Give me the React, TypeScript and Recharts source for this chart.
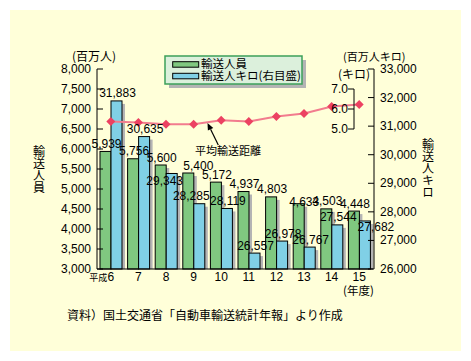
import React from 'react';
import { ComposedChart, Bar, Line, XAxis, YAxis, LabelList } from 'recharts';

const years = ['6', '7', '8', '9', '10', '11', '12', '13', '14', '15'];
const passengers = [5939, 5756, 5600, 5400, 5172, 4937, 4803, 4633, 4503, 4448];
const passengerKm = [31883, 30635, 29343, 28285, 28119, 26557, 26978, 26767, 27544, 27682];
const avgDistance = [5.37, 5.32, 5.24, 5.24, 5.44, 5.38, 5.62, 5.78, 6.12, 6.22];
const leftTicks = [3000, 3500, 4000, 4500, 5000, 5500, 6000, 6500, 7000, 7500, 8000];
const rightTicks = [26000, 27000, 28000, 29000, 30000, 31000, 32000, 33000];
const distTicks = [5, 6, 7];

const seriesNames = { passengers: '輸送人員', km: '輸送人キロ(右目盛)', dist: '平均輸送距離' };

const data = years.map((y, i) => ({
  year: y,
  passengers: passengers[i],
  km: passengerKm[i],
  dist: avgDistance[i],
}));

const GREEN = '#80C880';
const BLUE = '#80D0E6';
const SHADOW = '#B4B4B4';
const LINE = '#F27C8E';
const DOT = '#EC4262';
const BG = '#FFFFD9';
const NUM_FONT = '"Liberation Sans", Arial, "Noto Sans CJK JP", sans-serif';
const JP_FONT = '"Noto Sans CJK JP", "Liberation Sans", sans-serif';

const greenNudge: Record<number, [number, number]> = { 3: [9, 0], 7: [4.5, 5.5] };
const blueNudge: Record<number, [number, number]> = { 2: [-8, 15.5], 3: [-9, 0], 9: [10, 13.5] };

const fmt = (v: number) => v.toLocaleString('en-US');

const ShadowBar = (props: any) => {
  const { x, y, width, height, fill } = props;
  if (width == null || height == null) return null;
  const off = 3;
  return (
    <g>
      <rect x={x + off} y={y + off} width={width} height={Math.max(0, height - off)} fill={SHADOW} />
      <rect x={x} y={y} width={width} height={height} fill={fill} stroke="#000" strokeWidth={1} />
    </g>
  );
};

const makeLabel = (nudge: Record<number, [number, number]>) => (props: any) => {
  const { x, y, width, value, index } = props;
  const n = nudge[index] || [0, 0];
  return (
    <text
      x={x + width / 2 + 1 + n[0]}
      y={y - 3.5 + n[1]}
      textAnchor="middle"
      fontFamily={NUM_FONT}
      fontSize={12}
      fill="#000"
    >
      {fmt(value)}
    </text>
  );
};

const LeftTick = (props: any) => {
  const { x, y, payload } = props;
  return (
    <g>
      <line x1={x} x2={x + 6} y1={y} y2={y} stroke="#000" />
      <text x={x - 6} y={y + 4} textAnchor="end" fontFamily={NUM_FONT} fontSize={12} fill="#000">
        {fmt(payload.value)}
      </text>
    </g>
  );
};

const RightTick = (props: any) => {
  const { x, y, payload } = props;
  return (
    <g>
      <line x1={x - 6} x2={x} y1={y} y2={y} stroke="#000" />
      <text x={x + 6} y={y + 4} textAnchor="start" fontFamily={NUM_FONT} fontSize={12} fill="#000">
        {fmt(payload.value)}
      </text>
    </g>
  );
};

const DistTick = (props: any) => {
  const { x, y, payload } = props;
  const bx = x - 19;
  const v = payload.value;
  const y1 = v === 7 ? y : y - 10;
  const y2 = v === 5 ? y : y + 10;
  return (
    <g>
      <line x1={bx - 6} x2={bx} y1={y} y2={y} stroke="#000" />
      <line x1={bx} x2={bx} y1={y1} y2={y2} stroke="#000" />
      <text x={bx - 6} y={y + 4} textAnchor="end" fontFamily={NUM_FONT} fontSize={12} fill="#000">
        {v.toFixed(1)}
      </text>
    </g>
  );
};

const XTick = (props: any) => {
  const { x, y, payload, index } = props;
  return (
    <g>
      {index === 0 && (
        <text x={x - 3.5} y={y + 12} textAnchor="end" fontFamily={JP_FONT} fontSize={9} fill="#000">
          平成
        </text>
      )}
      <text x={x} y={y + 12} textAnchor="middle" fontFamily={NUM_FONT} fontSize={12} fill="#000">
        {payload.value}
      </text>
    </g>
  );
};

const Diamond = (props: any) => {
  const { cx, cy } = props;
  if (cx == null || cy == null) return null;
  const r = 4.5;
  return <polygon points={`${cx},${cy - r} ${cx + r},${cy} ${cx},${cy + r} ${cx - r},${cy}`} fill={DOT} />;
};

const VerticalText = ({ x, y, text }: { x: number; y: number; text: string }) => (
  <text
    x={x}
    y={y}
    fontFamily={JP_FONT}
    fontSize={12}
    fill="#000"
    style={{ writingMode: 'vertical-rl' as any }}
  >
    {text}
  </text>
);

export default function App() {
  const tail = { x: 210.3, y: 137 };
  const tip = { x: 199.5, y: 115 };
  const dx = tip.x - tail.x;
  const dy = tip.y - tail.y;
  const len = Math.sqrt(dx * dx + dy * dy);
  const ux = dx / len;
  const uy = dy / len;
  const hl = 7;
  const hw = 3;
  const bxp = tip.x - ux * hl;
  const byp = tip.y - uy * hl;
  const head = `${tip.x},${tip.y} ${bxp - uy * hw},${byp + ux * hw} ${bxp + uy * hw},${byp - ux * hw}`;

  return (
    <div style={{ position: 'relative', width: 463, height: 353 }}>
      <div style={{ position: 'absolute', left: 2, top: 2, width: 451, height: 341, background: BG }} />
      <div style={{ position: 'absolute', left: 0, top: 0 }}>
        <ComposedChart
          width={463}
          height={353}
          data={data}
          margin={{ top: 61, right: 0, bottom: 62, left: 0 }}
          barGap={0}
        >
          <XAxis
            dataKey="year"
            tickLine={false}
            tickSize={0}
            tickMargin={0}
            axisLine={{ stroke: '#000' }}
            tick={<XTick />}
            height={30}
            interval={0}
          />
          <YAxis
            yAxisId="left"
            orientation="left"
            width={89}
            domain={[3000, 8000]}
            ticks={leftTicks}
            tickLine={false}
            tickSize={0}
            tickMargin={0}
            axisLine={{ stroke: '#000' }}
            tick={<LeftTick />}
            interval={0}
          />
          <YAxis
            yAxisId="d"
            orientation="right"
            width={1}
            domain={[-2, 8]}
            ticks={distTicks}
            tickLine={false}
            tickSize={0}
            tickMargin={0}
            axisLine={false}
            tick={<DistTick />}
            interval={0}
          />
          <YAxis
            yAxisId="right"
            orientation="right"
            width={97}
            domain={[26000, 33000]}
            ticks={rightTicks}
            tickLine={false}
            tickSize={0}
            tickMargin={0}
            axisLine={{ stroke: '#000' }}
            tick={<RightTick />}
            interval={0}
          />
          <Bar
            yAxisId="left"
            dataKey="passengers"
            name={seriesNames.passengers}
            fill={GREEN}
            barSize={11}
            shape={<ShadowBar />}
            isAnimationActive={false}
          >
            <LabelList dataKey="passengers" content={makeLabel(greenNudge)} />
          </Bar>
          <Bar
            yAxisId="right"
            dataKey="km"
            name={seriesNames.km}
            fill={BLUE}
            barSize={11}
            shape={<ShadowBar />}
            isAnimationActive={false}
          >
            <LabelList dataKey="km" content={makeLabel(blueNudge)} />
          </Bar>
          <Line
            yAxisId="d"
            dataKey="dist"
            name={seriesNames.dist}
            stroke={LINE}
            strokeWidth={2}
            dot={<Diamond />}
            activeDot={false}
            isAnimationActive={false}
          />
        </ComposedChart>
      </div>
      <svg
        width={463}
        height={353}
        style={{ position: 'absolute', left: 0, top: 0, pointerEvents: 'none' }}
      >
        <text x={64} y={53} fontFamily={JP_FONT} fontSize={12} fill="#000">(百万人)</text>
        <text x={335} y={53} fontFamily={JP_FONT} fontSize={11} fill="#000">(百万人キロ)</text>
        <text x={330} y={71} fontFamily={JP_FONT} fontSize={12} fill="#000">(キロ)</text>
        <text x={335} y={287} fontFamily={JP_FONT} fontSize={11.5} fill="#000">(年度)</text>
        <VerticalText x={31} y={137} text="輸送人員" />
        <VerticalText x={420} y={130} text="輸送人キロ" />
        <text x={59} y={311.5} fontFamily={JP_FONT} fontSize={12} fill="#000">
          資料）国土交通省「自動車輸送統計年報」より作成
        </text>
        {/* legend */}
        <rect x={161} y={52} width={137} height={28} fill={SHADOW} />
        <rect x={157} y={48} width={137} height={28} fill="#DCF0DC" stroke="#3CA05A" strokeWidth={1.5} />
        <rect x={164.7} y={53.7} width={26} height={5.5} fill={GREEN} stroke="#000" strokeWidth={1} />
        <rect x={164.7} y={65.3} width={26} height={5.5} fill={BLUE} stroke="#000" strokeWidth={1} />
        <text x={193} y={59.5} fontFamily={JP_FONT} fontSize={11.5} fill="#000">{seriesNames.passengers}</text>
        <text x={193} y={72} fontFamily={JP_FONT} fontSize={11.5} fill="#000">{seriesNames.km}</text>
        {/* annotation */}
        <line x1={tail.x} y1={tail.y} x2={bxp} y2={byp} stroke="#000" strokeWidth={1.2} />
        <polygon points={head} fill="#000" />
        <text x={220} y={146.5} textAnchor="middle" fontFamily={JP_FONT} fontSize={11} fill="#000">
          {seriesNames.dist}
        </text>
      </svg>
    </div>
  );
}
